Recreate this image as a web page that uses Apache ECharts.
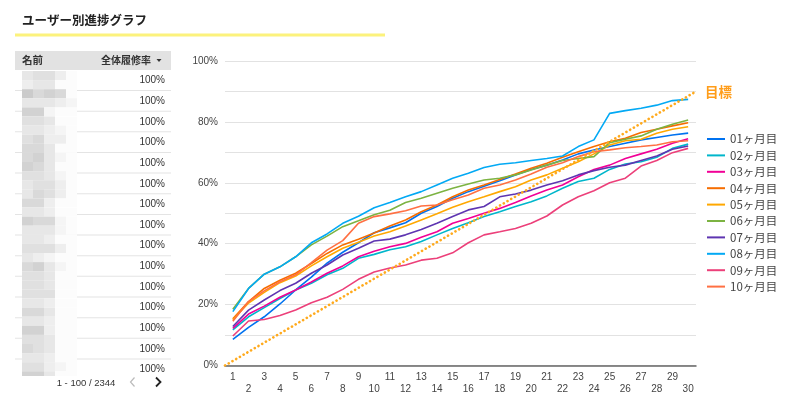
<!DOCTYPE html>
<html><head><meta charset="utf-8">
<script src="https://cdn.jsdelivr.net/npm/echarts@6/dist/echarts.min.js"></script>
<style>html,body{margin:0;padding:0;background:#fff}#c{width:800px;height:402px}</style>
</head><body><div id="c"></div>
<script>
const days = Array.from({length:30},(_,i)=>String(i+1));
const seriesNames = ['01ヶ月目','02ヶ月目','03ヶ月目','04ヶ月目','05ヶ月目','06ヶ月目','07ヶ月目','08ヶ月目','09ヶ月目','10ヶ月目'];
const m01 = [8.6,12.5,16,20.2,24.8,29,33.6,37.2,40.3,43.6,45.2,46.9,50,52.2,54.9,57.1,58.9,60.7,62.6,64.4,65.8,67.5,69.5,70.8,71.9,73,74.1,74.9,75.7,76.3];
const m02 = [11.7,16,19,22,24.8,27,29.8,31.9,35.2,36.5,38,39,40.7,42.9,45,46.9,48.9,50.5,52.2,53.8,55.7,58.2,60.4,61.5,64.4,66.2,66.9,68.4,71.3,72.7];
const m03 = [12.2,16.9,19.5,22.4,24.8,27.4,30.3,32.7,35.7,37.5,39,40.1,42.1,43.9,46.7,48.3,50,51.6,53.5,55.7,57.6,59.3,62,64.4,65.8,68,69.5,71,73,74.5];
const m04 = [15.3,21,25.3,28,30.3,33.5,36.8,39.6,41.5,43.5,45.8,47.8,50.5,52.7,55.4,57.6,59.3,61.1,62.9,64.8,66.4,68.4,70.2,71.9,73.5,74.6,76.5,77.6,78.7,79.7];
const m05 = [15,20.5,24,27.2,29.4,32.7,35.7,38.5,40.5,42.5,43.9,45.8,47.8,49.8,52,53.8,55.4,57.1,58.7,60.9,62.6,64.8,66.9,69.5,72.4,73.8,74.3,76.3,77.6,78.4];
const m06 = [18.5,25.3,30,32.4,35.7,39.6,42.5,45.6,47.5,49.5,51,53.5,54.9,56.6,58.2,59.6,60.9,61.5,62.6,64.2,65.8,67.3,68,68.6,73.2,74.3,75.4,77.6,79.2,80.6];
const m07 = [12.8,18.2,21.5,24.6,27,30.3,33,36.3,38.5,40.9,41.5,42.9,44.7,46.7,48.9,51.1,52.2,55.4,56.3,57.6,59.3,60.7,62.6,64,65.1,65.8,67.3,68.8,71,72.1];
const m08 = [17.7,25.3,30,32.4,35.7,40.3,43.2,46.7,49,51.8,53.5,55.4,57.1,59.3,61.5,63.1,65,66.1,66.6,67.3,68,68.8,71.9,74.1,82.8,83.7,84.5,85.5,87,87.4];
const m09 = [9.7,14.6,15.1,16.4,18.2,20.6,22.4,25,28.3,30.7,32,33,34.6,35.2,37,40.3,42.9,43.9,45,46.7,49.1,52.7,55.4,57.4,60,61.5,65.5,67.3,69.9,71.3];
const m10 = [14.5,21,24.5,27.5,29.8,33.8,37.9,41,46.7,48.9,49.8,50.8,52.4,52.7,54.4,56,58.2,59.3,60.9,62.9,65.1,66.6,68.6,70.2,70.8,71.5,71.9,72.4,73.5,73.8];
const goal = [[0,0],[30,90]];
const goalLabel = '目標';
const yTicks = [0,20,40,60,80,100];
const tableTitle = 'ユーザー別進捗グラフ';
const tableHeaders = ['名前','全体履修率'];
const tableValues = Array(15).fill('100%');
const pagerText = '1 - 100 / 2344';

const palette = ['#0072f0','#00b6cb','#f10096','#f66d00','#ffa800','#7cb342','#5e35b1','#03a9f4','#ec407a','#ff7043'];
const allData = [m01,m02,m03,m04,m05,m06,m07,m08,m09,m10];

// decorative mosaic pattern for hidden names (shade levels 0-9)
const mosaic = [
 '34420','23300','75650','33321','66100','44300','33210','45220','55300','56310',
 '65300','44310','34420','35420','55200','33200','65510','33310','33200','44420',
 '32100','56310','44300','44300','44400','33200','55300','33200','66200','44300',
 '54300','33200','44210','66300'
];
const CJK = '"Noto Sans CJK JP","Liberation Sans",sans-serif';
const graphic = [];
graphic.push({type:'text',x:22,y:20,style:{text:tableTitle,font:'bold 12.5px '+CJK,fill:'#222',textVerticalAlign:'middle'}});
graphic.push({type:'rect',shape:{x:15,y:33.5,width:370,height:3},style:{fill:'#fcf27c'}});
graphic.push({type:'rect',shape:{x:15,y:51,width:156,height:19},style:{fill:'#e2e2e2'}});
graphic.push({type:'text',x:22,y:60.5,style:{text:tableHeaders[0],font:'bold 10.5px '+CJK,fill:'#333',textVerticalAlign:'middle'}});
graphic.push({type:'text',x:151,y:60.5,style:{text:tableHeaders[1],font:'bold 10px '+CJK,fill:'#333',textAlign:'right',textVerticalAlign:'middle'}});
graphic.push({type:'polygon',shape:{points:[[156.5,59],[161.5,59],[159,62]]},style:{fill:'#333'}});
const rowH = 20.65;
tableValues.forEach((v,i)=>{
  const cy = 80 + i*rowH;
  if(i<tableValues.length-1) graphic.push({type:'rect',shape:{x:15,y:cy+10,width:156,height:1},style:{fill:'#e4e4e4'}});
  graphic.push({type:'text',x:165,y:cy+0.5,style:{text:v,font:'10px "Liberation Sans",Arial,sans-serif',fill:'#333',textAlign:'right',textVerticalAlign:'middle'}});
});
mosaic.forEach((row,r)=>{
  const y = 71 + r*9.1;
  if (y > 376) return;
  for(let c=0;c<5;c++){
    const lv = +row[c];
    const g = Math.round(252 - lv*7);
    graphic.push({type:'rect',shape:{x:22+c*11,y:y,width:11,height:9.1},style:{fill:`rgb(${g},${g},${g})`}});
  }
});
graphic.push({type:'rect',shape:{x:0,y:376,width:180,height:26},style:{fill:'#fff'}});
graphic.push({type:'text',x:86,y:383,style:{text:pagerText,font:'9.5px "Liberation Sans",Arial,sans-serif',fill:'#333',textAlign:'center',textVerticalAlign:'middle'}});
graphic.push({type:'polyline',shape:{points:[[134.5,377.5],[130.5,382],[134.5,386.5]]},style:{stroke:'#bbb',lineWidth:1.2,fill:null}});
graphic.push({type:'polyline',shape:{points:[[156,377.5],[160.5,382],[156,386.5]]},style:{stroke:'#222',lineWidth:1.8,fill:null}});

const series = allData.map((d,i)=>({
  name: seriesNames[i], type:'line', data:d, symbol:'none', silent:true,
  lineStyle:{width:1.6,color:palette[i]}, itemStyle:{color:palette[i]}, z:3+i
}));
series.push({
  name:goalLabel, type:'line', xAxisIndex:1, data:goal, symbol:'none', silent:true, z:20,
  lineStyle:{width:2.6,color:'#ffaa1d',type:[0.1,4.2],cap:'round'},
  endLabel:{show:true,formatter:goalLabel,color:'#ff9d1a',fontSize:13.5,fontWeight:'bold',fontFamily:CJK,distance:9,offset:[0,0]}
});

const chart = echarts.init(document.getElementById('c'));
chart.setOption({
  animation:false,
  textStyle:{fontFamily:'"Liberation Sans",Arial,sans-serif'},
  graphic: graphic,
  grid:{left:225,top:61,width:471,height:304.5,containLabel:false},
  legend:{
    data:seriesNames, orient:'vertical', left:707, top:132, padding:0, icon:'rect', itemWidth:18, itemHeight:2, itemGap:2.4,
    textStyle:{color:'#444',fontSize:11.5,fontFamily:CJK,lineHeight:14}, selectedMode:false
  },
  xAxis:[
    {type:'category',data:days,boundaryGap:true,
     axisLine:{lineStyle:{color:'#666',width:1.5}},axisTick:{show:false},
     axisLabel:{interval:0,color:'#444',fontSize:10,margin:6,lineHeight:12,
       formatter:(v,idx)=> idx%2===0 ? v : '\n'+v}},
    {type:'value',min:0,max:30,show:false}
  ],
  yAxis:{type:'value',min:0,max:100,interval:10,
    axisLine:{show:false},axisTick:{show:false},
    splitLine:{lineStyle:{color:'#e2e2e2',width:1.2}},
    axisLabel:{color:'#444',fontSize:10,margin:7,formatter:v=> yTicks.includes(v) ? v+'%' : ''}},
  series: series
});
</script></body></html>
